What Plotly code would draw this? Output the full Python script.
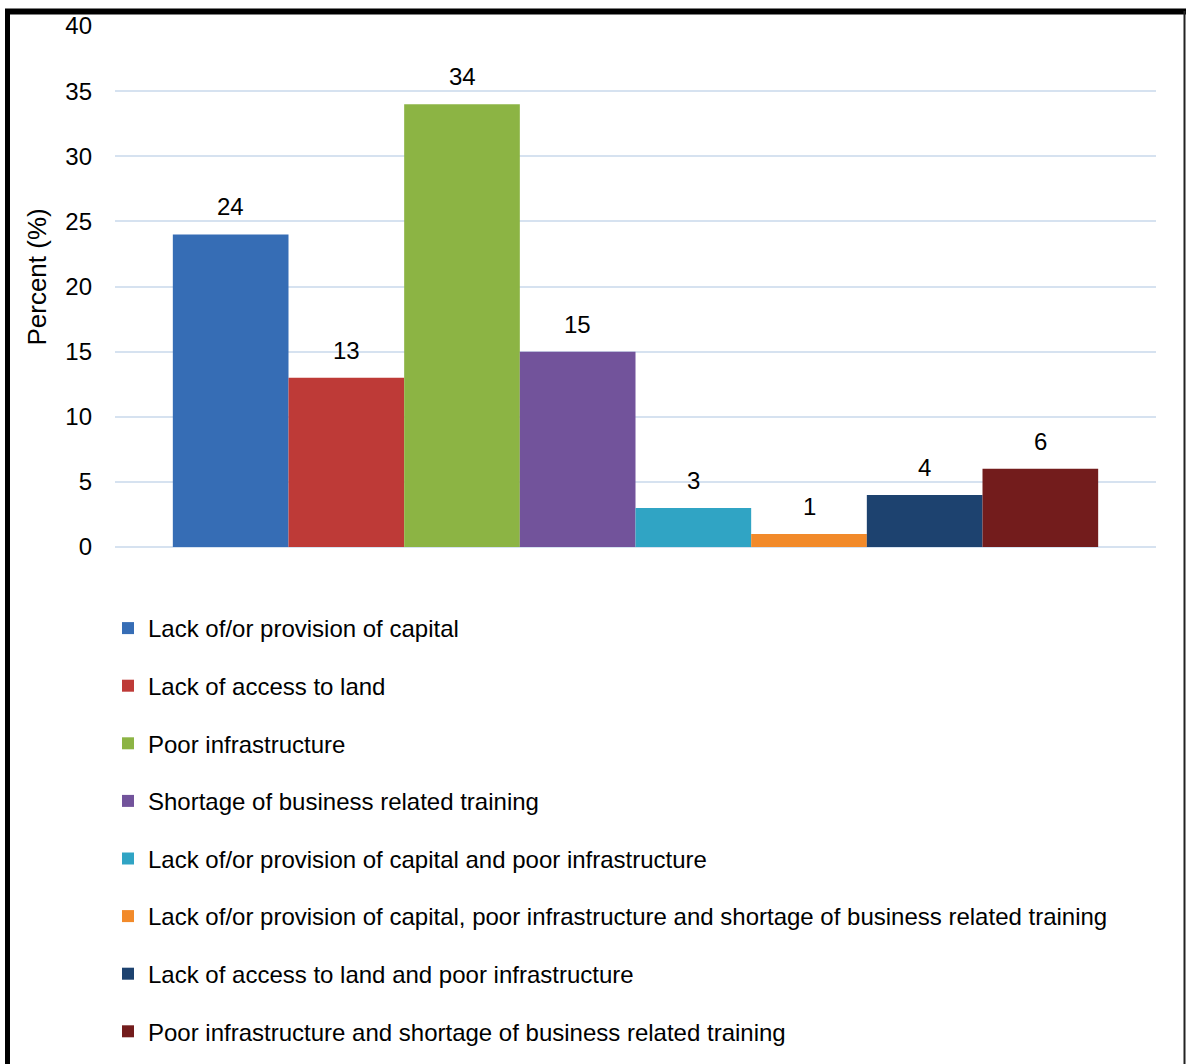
import plotly.graph_objects as go

categories = [
    "Lack of/or provision of capital",
    "Lack of access to land",
    "Poor infrastructure",
    "Shortage of business related training",
    "Lack of/or provision of capital and poor infrastructure",
    "Lack of/or provision of capital, poor infrastructure and shortage of business related training",
    "Lack of access to land and poor infrastructure",
    "Poor infrastructure and shortage of business related training",
]
values = [24, 13, 34, 15, 3, 1, 4, 6]
colors = ["#366db5", "#be3a37", "#8cb444", "#72539b",
          "#30a4c4", "#f28a2a", "#1d426f", "#731c1c"]
y_ticks = [0, 5, 10, 15, 20, 25, 30, 35, 40]
y_title = "Percent (%)"

FONT = "Liberation Sans, Arial, sans-serif"

fig = go.Figure()
for i, (name, v, c) in enumerate(zip(categories, values, colors)):
    fig.add_trace(go.Bar(
        x=[i], y=[v], width=1, name=name, legendgroup=f"g{i}",
        marker=dict(color=c, line=dict(width=0)),
        hoverinfo="name+y",
    ))
    fig.add_annotation(x=i, y=v, text=str(v), showarrow=False,
                       yanchor="bottom", yshift=12,
                       font=dict(family=FONT, size=24, color="black"))

# Plot area: x 115..1156, y 23..547
L, R, T, B = 115, 1156, 23, 547
W, H = 1186, 1064
pw, ph = R - L, B - T
def px(x): return (x - L) / pw
def py(y): return (B - y) / ph

fig.add_annotation(xref="paper", yref="paper", x=px(37), y=py(276),
                   xanchor="center", yanchor="middle", textangle=-90,
                   text=y_title, showarrow=False,
                   font=dict(family=FONT, size=26, color="black"))

shapes = [
    dict(type="line", xref="paper", yref="paper", x0=px(7.5), x1=px(7.5), y0=py(8), y1=py(1070),
         line=dict(color="black", width=5)),
    dict(type="line", xref="paper", yref="paper", x0=px(5), x1=px(1186), y0=py(8.5), y1=py(8.5),
         line=dict(color="black", width=6)),
    dict(type="line", xref="paper", yref="paper", x0=px(1184.5), x1=px(1184.5), y0=py(8), y1=py(1070),
         line=dict(color="#222222", width=2)),
]

fig.update_layout(
    width=W, height=H,
    margin=dict(l=L, r=W - R, t=T, b=H - B, pad=0),
    paper_bgcolor="white", plot_bgcolor="white",
    barmode="overlay",
    showlegend=True,
    shapes=shapes,
    font=dict(family=FONT, size=24, color="black"),
    legend=dict(
        x=px(108), xanchor="left",
        yref="container", y=1 - 606 / H, yanchor="top",
        orientation="v", traceorder="grouped", tracegroupgap=23.4,
        font=dict(family=FONT, size=24, color="black"),
        bgcolor="rgba(0,0,0,0)", itemclick=False,
    ),
    xaxis=dict(range=[-1, 8], showticklabels=False, showgrid=False,
               zeroline=False, showline=False, ticks=""),
    yaxis=dict(range=[0, 40], tickvals=y_ticks, showgrid=True,
               gridcolor="#d6e2f0", gridwidth=2, zeroline=True,
               zerolinecolor="#d6e2f0", zerolinewidth=2, showline=False,
               ticks="", ticklabelstandoff=22,
               tickfont=dict(family=FONT, size=24, color="black")),
)

fig.write_html(
    "out.html",
    config={"displayModeBar": False},
    post_script="document.body.style.margin='0px';document.body.style.overflow='hidden';",
)
